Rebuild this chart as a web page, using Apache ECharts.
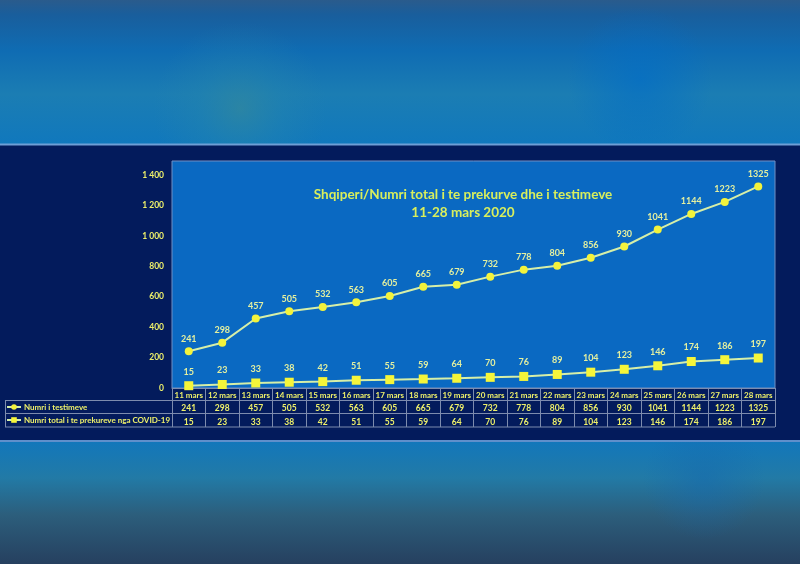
<!DOCTYPE html>
<html>
<head>
<meta charset="utf-8">
<script src="https://cdn.jsdelivr.net/npm/echarts@6/dist/echarts.min.js"></script>
<style>html,body{margin:0;padding:0;background:#031b5c;}#c{width:800px;height:564px;}</style>
</head>
<body>
<div id="c"></div>
<script>
const categories = ['11 mars','12 mars','13 mars','14 mars','15 mars','16 mars','17 mars','18 mars','19 mars','20 mars','21 mars','22 mars','23 mars','24 mars','25 mars','26 mars','27 mars','28 mars'];
const testimeve = [241,298,457,505,532,563,605,665,679,732,778,804,856,930,1041,1144,1223,1325];
const prekurve = [15,23,33,38,42,51,55,59,64,70,76,89,104,123,146,174,186,197];
const seriesNames = ['Numri i testimeve','Numri total i te prekureve nga COVID-19'];
const titleLines = ['Shqiperi/Numri total i te prekurve dhe i testimeve','11-28 mars 2020'];

const FONT = 'Lato';
const YEL = '#eef06a';
const LABEL = '#e4f0a0';
const LINE = '#d6efa8';
const GRIDC = '#7d8cae';

const chart = echarts.init(document.getElementById('c'), null, {renderer:'canvas'});
const option = {
  backgroundColor: '#031b5c',
  animation: false,
  textStyle: {fontFamily: FONT},
  title: {
    text: titleLines.join('\n'),
    left: 458, top: 181, textAlign: 'center',
    textStyle: {color: '#d9ef5c', fontSize: 13.5, fontWeight: 'bold', fontFamily: FONT, lineHeight: 18}
  },
  legend: [
    {data:[seriesNames[0]], left: 6, top: 403, padding: 0, itemWidth: 14, itemHeight: 7, itemGap: 0,
     textStyle:{color: YEL, fontSize: 8, fontWeight:'bold', fontFamily: FONT, padding:[0,0,0,-2]}},
    {data:[seriesNames[1]], left: 6, top: 416, padding: 0, itemWidth: 14, itemHeight: 7, itemGap: 0,
     textStyle:{color: YEL, fontSize: 8, fontWeight:'bold', fontFamily: FONT, padding:[0,0,0,-2]}}
  ],
  grid: {left: 172, right: 25, top: 175, bottom: 176},
  xAxis: {
    type: 'category', data: categories, boundaryGap: true,
    axisLine: {show: true, lineStyle: {color: GRIDC, width: 1}},
    axisTick: {show: true, interval: 0, length: 39, lineStyle: {color: GRIDC, width: 1}},
    axisLabel: {
      interval: 0, margin: 1,
      formatter: function (v, i) {
        return '{c|' + v + '}\n{v|' + testimeve[i] + '}\n{v|' + prekurve[i] + '}';
      },
      rich: {
        c: {color: YEL, fontSize: 8, fontWeight: 'bold', fontFamily: FONT, lineHeight: 13, height: 13},
        v: {color: YEL, fontSize: 8.5, fontWeight: 'bold', fontFamily: FONT, lineHeight: 13.3, height: 13.3}
      }
    }
  },
  yAxis: {
    type: 'value', min: 0, max: 1400, interval: 200,
    axisLine: {show: false}, axisTick: {show: false}, splitLine: {show: false},
    axisLabel: {
      color: YEL, fontSize: 8.5, fontWeight: 'bold', fontFamily: FONT, margin: 8,
      formatter: function (v) { return String(v).replace(/\B(?=(\d{3})+(?!\d))/g, ' '); }
    }
  },
  graphic: {elements: [
    {type:'rect', z:-10, shape:{x:0,y:0,width:800,height:145},
     style:{fill:{type:'linear',x:0,y:0,x2:0,y2:1,colorStops:[
       {offset:0,color:'#2a5b8c'},{offset:0.1,color:'#195e9c'},{offset:0.35,color:'#0f6cb3'},
       {offset:0.65,color:'#1b7db3'},{offset:1,color:'#1078bd'}]}}},
    {type:'rect', z:-9, shape:{x:0,y:0,width:800,height:145},
     style:{fill:{type:'radial',x:0.3,y:0.75,r:0.6,colorStops:[
       {offset:0,color:'rgba(58,140,150,0.55)'},{offset:0.5,color:'rgba(40,135,170,0.3)'},{offset:1,color:'rgba(40,130,170,0)'}]}}},
    {type:'rect', z:-9, shape:{x:0,y:0,width:800,height:145},
     style:{fill:{type:'radial',x:0.8,y:0.55,r:0.5,colorStops:[
       {offset:0,color:'rgba(0,108,200,0.6)'},{offset:0.6,color:'rgba(0,108,200,0.25)'},{offset:1,color:'rgba(0,108,200,0)'}]}}},
    {type:'rect', z:-8, shape:{x:0,y:143.5,width:800,height:2}, style:{fill:'#6e9fd6'}},
    {type:'rect', z:-10, shape:{x:0,y:441,width:800,height:123},
     style:{fill:{type:'linear',x:0,y:0,x2:0,y2:1,colorStops:[
       {offset:0,color:'#1277bb'},{offset:0.3,color:'#227aa6'},{offset:0.6,color:'#2c5e7c'},
       {offset:1,color:'#26405f'}]}}},
    {type:'rect', z:-9, shape:{x:0,y:441,width:800,height:123},
     style:{fill:{type:'radial',x:0.88,y:0.3,r:0.5,colorStops:[
       {offset:0,color:'rgba(20,105,175,0.5)'},{offset:1,color:'rgba(20,105,175,0)'}]}}},
    {type:'rect', z:-8, shape:{x:0,y:440,width:800,height:2}, style:{fill:'#5f8fcb'}},
    {type:'rect', z:-5, shape:{x:172,y:161,width:603,height:227},
     style:{fill:'#0a69c2', stroke:'#7090c4', lineWidth:1}},
    {type:'line', z:5, shape:{x1:5,y1:400.5,x2:775,y2:400.5}, style:{stroke:GRIDC,lineWidth:1}},
    {type:'line', z:5, shape:{x1:5,y1:413.5,x2:775,y2:413.5}, style:{stroke:GRIDC,lineWidth:1}},
    {type:'line', z:5, shape:{x1:5,y1:427,x2:775,y2:427}, style:{stroke:GRIDC,lineWidth:1}},
    {type:'line', z:5, shape:{x1:5.5,y1:400.5,x2:5.5,y2:427}, style:{stroke:GRIDC,lineWidth:1}}
  ]},
  series: [
    {name: seriesNames[0], type: 'line', data: testimeve,
     symbol: 'circle', symbolSize: 8,
     itemStyle: {color: '#f3f33c'},
     lineStyle: {color: LINE, width: 2},
     label: {show: true, position: 'top', distance: 4, color: LABEL, fontSize: 9, fontWeight: 'bold', fontFamily: FONT}},
    {name: seriesNames[1], type: 'line', data: prekurve,
     symbol: 'rect', symbolSize: 9,
     itemStyle: {color: '#f5f53a'},
     lineStyle: {color: LINE, width: 2},
     label: {show: true, position: 'top', distance: 5, color: LABEL, fontSize: 9, fontWeight: 'bold', fontFamily: FONT}}
  ]
};
chart.setOption(option);
</script>
</body>
</html>
